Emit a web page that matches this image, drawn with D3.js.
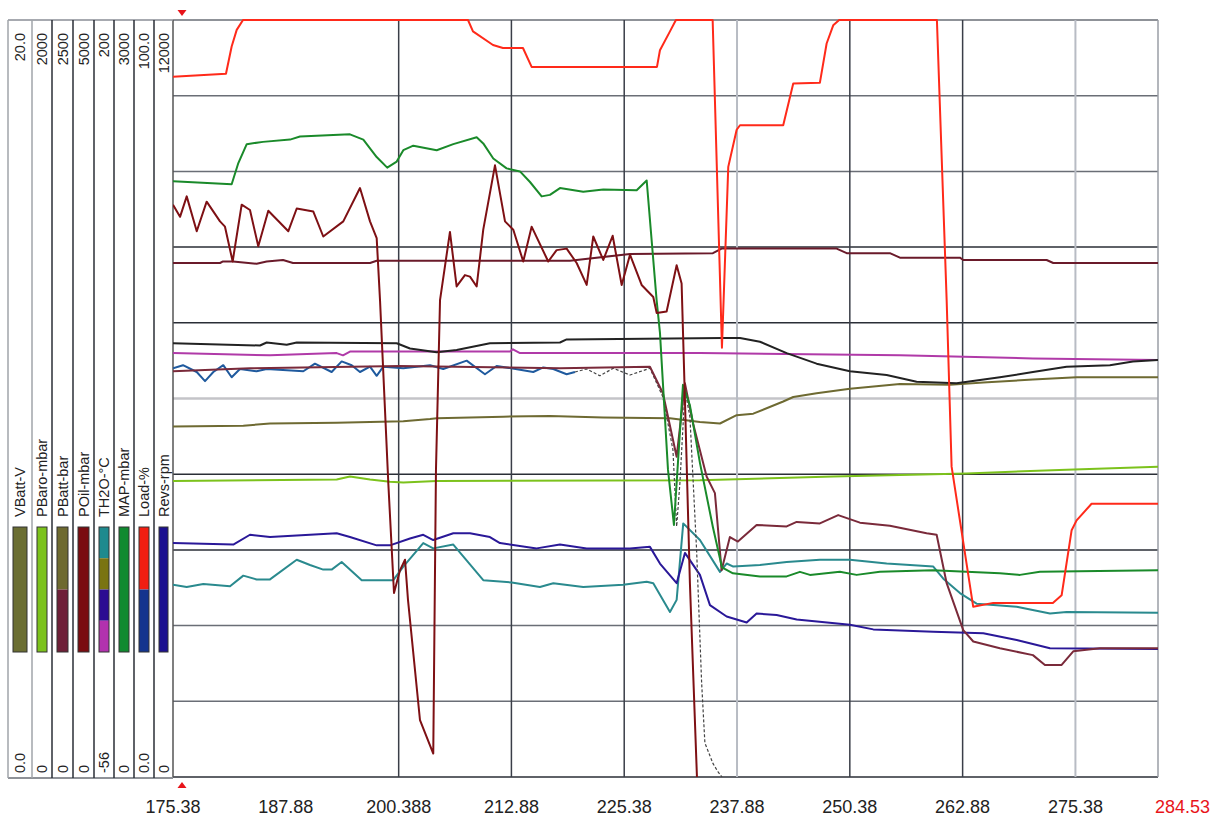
<!DOCTYPE html>
<html>
<head>
<meta charset="utf-8">
<script src="https://cdn.jsdelivr.net/npm/d3@7"></script>
<style>
  html, body { margin: 0; padding: 0; background: #fff; }
  svg { display: block; font-family: "Liberation Sans", Arial, sans-serif; }
</style>
</head>
<body>
<svg id="chart" width="1223" height="817"></svg>
<script>
// time axis
const tStart = 175.38;
const tEnd = 284.53;
const tickTimes = [187.88, 200.388, 212.88, 225.38, 237.88, 250.38, 262.88, 275.38];
const tickLabels = ['175.38', '187.88', '200.388', '212.88', '225.38', '237.88', '250.38', '262.88', '275.38'];
const endLabel = '284.53';

// legend columns
const chanNames = ['VBatt-V', 'PBaro-mbar', 'PBatt-bar', 'POil-mbar', 'TH2O-°C', 'MAP-mbar', 'Load-%', 'Revs-rpm'];
const chanMax = ['20.0', '2000', '2500', '5000', '200', '3000', '100.0', '12000'];
const chanMin = ['0.0', '0', '0', '0', '-56', '0', '0.0', '0'];
const chanSwatch = [
  ['#6b6e32'],
  ['#7cc21c'],
  ['#6e6a30', '#6e2038'],
  ['#7a0c10'],
  ['#1e8a8e', '#7a7412', '#2c0c92', '#b232ae'],
  ['#108a30'],
  ['#f21e12', '#14348e'],
  ['#1c1090']
];

// traces, [time, % of full scale]
const loadRed = [[175.38,92.5],[181.25,92.9],[181.88,96.5],[182.44,98.7],[183.14,100],[208.07,100],[208.62,98.5],[210.84,96.7],[211.94,96.3],[214.16,96.3],[215.12,93.8],[229.01,93.8],[229.34,96.0],[230.45,98.5],[231.11,100],[235.18,100],[236.21,56.7],[236.91,80.6],[237.84,85.5],[238.21,86.1],[243.0,86.1],[244.11,91.6],[247.06,91.7],[247.81,96.9],[248.54,99.3],[249.2,100],[260.03,100],[261.11,63.0],[261.66,41.0],[264.05,22.5],[266.27,23.0],[272.88,23.0],[273.85,24.0],[274.96,32.6],[275.51,33.9],[277.17,36.1],[284.53,36.1]];
const mapGreen = [[175.38,78.7],[181.88,78.3],[182.62,81.1],[183.55,83.6],[185.35,83.9],[188.35,84.2],[189.45,84.6],[193.14,84.8],[194.99,84.9],[196.47,84.2],[197.95,81.9],[199.12,80.5],[200.17,81.3],[200.9,82.8],[202.01,83.4],[204.6,82.8],[206.44,83.6],[209.03,84.5],[209.76,83.7],[210.87,81.7],[212.35,80.4],[213.83,80.0],[214.94,78.6],[216.23,76.7],[217.15,76.9],[218.26,77.8],[220.84,77.3],[223.06,77.6],[226.76,77.5],[227.87,78.8],[228.97,63.0],[229.34,58.7],[230.23,40.6],[230.89,33.3],[231.89,51.8],[232.66,49.1],[233.77,41.5],[235.21,33.0],[236.21,27.7],[237.43,26.9],[240.42,26.5],[243.38,26.5],[244.85,27.1],[245.96,26.7],[249.28,27.1],[251.13,26.7],[253.71,27.1],[259.59,27.3],[267.01,26.9],[269.23,26.7],[271.44,27.1],[284.53,27.3]];
const oilDarkRed = [[175.38,75.6],[176.16,74.0],[176.9,76.7],[178.01,72.1],[179.11,76.0],[180.59,73.4],[181.14,72.7],[181.99,68.1],[182.99,75.6],[183.91,74.9],[184.83,70.1],[185.94,74.8],[188.16,72.1],[189.09,75.1],[190.93,74.7],[192.03,71.4],[194.25,73.4],[196.1,77.8],[197.21,73.4],[197.95,71.2],[198.32,63.0],[199.24,38.8],[199.87,24.3],[200.53,27.3],[201.09,28.7],[201.42,23.4],[202.75,7.5],[204.22,3.1],[204.52,40.6],[204.97,63.0],[206.07,72.0],[206.81,64.8],[207.73,66.3],[208.29,66.1],[209.03,64.8],[209.76,72.3],[211.06,80.8],[212.17,73.4],[213.09,72.3],[214.19,68.1],[215.12,72.7],[216.96,68.1],[217.89,69.6],[219.0,69.8],[220.11,67.9],[221.22,65.0],[221.95,71.4],[223.06,68.3],[224.1,71.5],[225.1,65.0],[226.02,69.0],[227.31,65.0],[228.6,63.4],[228.98,61.3],[230.08,61.5],[231.19,67.6],[231.74,65.2],[232.11,49.8],[232.66,25.6],[233.44,0],[233.6,-3]];
const battMaroon = [[175.38,67.9],[180.59,67.9],[180.92,68.1],[182.03,68.1],[184.65,67.8],[185.76,68.1],[187.57,68.3],[188.68,67.9],[197.21,67.9],[197.95,68.2],[219.37,68.2],[226.02,69.1],[235.21,69.2],[236.17,69.8],[248.92,69.8],[250.03,69.2],[254.82,69.2],[255.93,68.6],[262.58,68.6],[262.95,68.3],[272.19,68.3],[272.92,67.9],[284.53,67.9]];
const battLow = [[175.38,53.6],[183.91,54.0],[200.53,54.3],[218.26,54.0],[228.23,54.2],[229.67,50.7],[231.19,42.3],[232.11,52.0],[232.99,46.8],[234.51,39.7],[235.43,37.5],[236.17,27.3],[237.09,31.7],[237.98,31.1],[240.05,33.3],[243.38,33.1],[244.49,33.7],[247.06,33.5],[249.09,34.6],[251.5,33.6],[254.82,33.2],[258.89,32.2],[260.0,32.0],[261.11,25.6],[262.95,19.4],[264.06,17.9],[267.01,17.0],[270.67,16.1],[272.0,14.8],[273.85,14.8],[275.14,16.6],[278.09,17.0],[284.53,17.0]];
const blackLine = [[175.38,57.3],[185.02,57.0],[185.76,57.4],[187.98,57.1],[189.09,57.4],[200.17,57.3],[201.64,56.6],[204.6,56.1],[206.81,56.4],[210.5,57.3],[218.26,57.4],[219.0,57.8],[236.35,58.0],[238.21,58.0],[240.42,57.5],[243.38,56.0],[246.7,54.6],[250.39,53.6],[254.46,53.1],[257.78,52.2],[262.21,52.0],[267.01,52.8],[270.67,53.5],[274.4,54.2],[279.2,54.4],[281.75,54.9],[284.53,55.1]];
const magentaLine = [[175.38,56.0],[186.13,55.7],[193.52,56.0],[194.22,55.7],[194.99,56.2],[212.72,56.2],[213.05,56.5],[213.83,56.0],[233.77,56.0],[255.93,55.7],[270.67,55.3],[284.53,55.1]];
const blueLine = [[175.38,54.0],[176.49,54.4],[178.01,53.5],[178.93,52.3],[179.85,53.5],[180.95,54.4],[181.88,52.8],[182.8,53.9],[184.65,53.6],[185.76,53.9],[189.82,53.6],[191.11,54.6],[192.96,53.5],[194.07,54.9],[195.18,54.4],[196.1,53.5],[197.21,54.2],[197.95,53.0],[198.68,54.2],[200.9,54.0],[203.86,54.4],[205.33,53.9],[207.92,55.0],[209.95,53.2],[211.24,54.3],[213.83,53.8],[215.3,53.5],[216.41,54.1],[217.52,53.9],[219.0,53.2],[219.92,53.5]];
const grayThin = [[219.92,53.5],[221.22,53.9],[222.69,53.0],[224.17,54.0],[226.02,53.1],[227.49,53.7],[228.23,54.0],[229.67,50.2],[230.78,43.2],[231.19,33.1],[231.55,38.8],[232.11,51.1],[232.66,47.6],[233.4,30.0],[233.96,12.4],[234.32,4.5],[235.21,1.8],[235.76,0.7],[236.21,0]];
const oliveLine = [[175.38,46.3],[183.17,46.4],[186.13,46.7],[193.52,46.8],[200.9,47.0],[203.86,47.3],[204.6,47.4],[211.98,47.6],[217.15,47.7],[223.06,47.5],[230.45,47.4],[233.77,46.9],[235.99,46.7],[237.84,47.8],[239.68,48.0],[243.0,49.6],[244.11,50.2],[246.7,50.7],[250.39,51.3],[255.93,51.9],[261.47,51.8],[265.16,52.1],[270.67,52.5],[275.51,52.8],[284.53,52.8]];
const baroGreen = [[175.38,39.1],[193.52,39.3],[194.99,39.7],[197.21,39.3],[199.42,39.0],[200.9,38.9],[204.6,39.1],[233.77,39.2],[248.54,39.7],[263.32,40.1],[274.4,40.6],[284.53,41.0]];
const revsNavy = [[175.38,30.9],[182.06,30.7],[183.91,32.0],[186.13,31.7],[193.52,32.2],[194.99,31.7],[197.95,30.6],[199.42,30.6],[201.64,31.5],[203.11,32.0],[204.22,31.3],[206.44,32.2],[208.29,32.2],[210.5,31.7],[211.61,30.9],[215.68,30.2],[218.26,30.7],[221.22,30.2],[226.02,30.2],[228.23,30.4],[229.34,28.2],[231.19,25.6],[232.11,29.6],[233.77,26.7],[234.88,22.7],[236.73,21.2],[238.95,20.4],[240.05,21.6],[242.27,21.4],[244.49,20.8],[250.39,20.1],[252.98,19.5],[259.63,19.2],[265.17,19.0],[268.87,18.1],[272.56,17.0],[284.53,16.9]];
const waterTeal = [[175.38,25.4],[176.9,25.1],[178.74,25.5],[181.7,25.2],[183.17,26.6],[184.65,26.1],[186.13,26.1],[189.09,28.7],[190.56,28.0],[192.03,27.4],[192.96,27.4],[194.07,28.4],[196.29,26.0],[199.79,26.0],[200.9,27.8],[203.11,30.9],[204.22,30.2],[206.44,30.7],[209.76,26.0],[212.91,25.7],[216.04,25.1],[217.52,25.6],[220.84,25.1],[225.27,25.4],[227.87,25.8],[228.6,25.6],[230.45,21.8],[231.19,23.4],[231.92,33.5],[233.77,31.3],[235.99,27.1],[236.73,28.2],[237.47,27.8],[240.42,28.0],[243.38,28.4],[247.06,28.7],[250.39,28.7],[254.46,28.2],[259.63,27.8],[260.74,26.2],[262.58,24.3],[264.43,22.9],[268.87,22.5],[272.56,21.6],[274.4,21.8],[284.53,21.7]];

const traces = [
  { data: baroGreen, color: '#7cc21c', w: 2 },
  { data: oliveLine, color: '#6e6a32', w: 2 },
  { data: waterTeal, color: '#2a8a8e', w: 2 },
  { data: revsNavy, color: '#2a1898', w: 2 },
  { data: magentaLine, color: '#b03aa8', w: 2 },
  { data: blackLine, color: '#222', w: 2 },
  { data: blueLine, color: '#1f5a9e', w: 2 },
  { data: grayThin, color: '#444', w: 1.2, dash: '3,2' },
  { data: battLow, color: '#7a2a3a', w: 2 },
  { data: battMaroon, color: '#6a1a2a', w: 2 },
  { data: mapGreen, color: '#1a8a2a', w: 2 },
  { data: oilDarkRed, color: '#7e1014', w: 2 },
  { data: loadRed, color: '#ff2a1a', w: 2 }
];

const svg = d3.select('#chart');
const plotL = 173, plotR = 1158, plotT = 20, plotB = 777;

const x = d3.scaleLinear().domain([tStart, tEnd]).range([plotL, plotR]);
const y = d3.scaleLinear().domain([0, 100]).range([plotB, plotT]);

// grid
const hGrid = d3.range(0, 101, 10);
const darkH = [0, 30, 40, 60, 70];
const hStyle = v => v === 50 ? ['#c4c4c8', 2.5] : darkH.includes(v) ? ['#2a2e36', 1.5] : ['#6a6e76', 1.5];
svg.append('g').selectAll('line').data(hGrid).enter().append('line')
  .attr('x1', plotL).attr('x2', plotR)
  .attr('y1', d => y(d)).attr('y2', d => y(d))
  .attr('stroke', d => hStyle(d)[0]).attr('stroke-width', d => hStyle(d)[1]);

const lightV = [237.88, 275.38];
svg.append('g').selectAll('line').data(tickTimes.filter(t => t !== 187.88)).enter().append('line')
  .attr('x1', d => x(d)).attr('x2', d => x(d))
  .attr('y1', plotT).attr('y2', plotB)
  .attr('stroke', d => lightV.includes(d) ? '#b8bcc4' : '#3a3e48')
  .attr('stroke-width', d => lightV.includes(d) ? 2 : 1.5);

// plot frame
svg.append('line').attr('x1', plotL).attr('x2', plotL).attr('y1', plotT).attr('y2', plotB)
  .attr('stroke', '#555').attr('stroke-width', 1.5);
svg.append('line').attr('x1', plotR).attr('x2', plotR).attr('y1', plotT).attr('y2', plotB)
  .attr('stroke', '#9a9ea6').attr('stroke-width', 1.5);

// traces
svg.append('clipPath').attr('id', 'plot-clip').append('rect')
  .attr('x', plotL).attr('y', plotT - 2).attr('width', plotR - plotL).attr('height', plotB - plotT + 2);
const line = d3.line().x(d => x(d[0])).y(d => y(d[1]));
const g = svg.append('g').attr('clip-path', 'url(#plot-clip)');
traces.forEach(tr => {
  g.append('path')
    .attr('d', line(tr.data))
    .attr('fill', 'none')
    .attr('stroke', tr.color)
    .attr('stroke-width', tr.w)
    .attr('stroke-linejoin', 'round')
    .attr('stroke-dasharray', tr.dash || null);
});

// legend panel on the left
const colEdges = [8, 32, 52, 73, 94, 114, 134, 154, 173];
const leg = svg.append('g');
leg.append('line').attr('x1', 8).attr('x2', plotL).attr('y1', plotT).attr('y2', plotT)
  .attr('stroke', '#8a8e96').attr('stroke-width', 1.5);
leg.append('line').attr('x1', 8).attr('x2', plotL).attr('y1', 778).attr('y2', 778)
  .attr('stroke', '#6a6e76').attr('stroke-width', 1.5);
colEdges.slice(0, -1).forEach((ex, i) => {
  leg.append('line').attr('x1', ex).attr('x2', ex).attr('y1', plotT).attr('y2', 778)
    .attr('stroke', i < 2 ? '#a0a4aa' : '#2a2e36').attr('stroke-width', 1.5);
});

chanNames.forEach((name, i) => {
  const cx = (colEdges[i] + colEdges[i + 1]) / 2;
  const tx = (yy, txt, anchor) => leg.append('text')
    .attr('transform', `translate(${cx + 5},${yy}) rotate(-90)`)
    .attr('text-anchor', anchor)
    .attr('font-size', 14.5)
    .attr('fill', '#222')
    .text(txt);
  tx(33, chanMax[i], 'end');
  tx(517, name, 'start');
  tx(773, chanMin[i], 'start');

  const cols = chanSwatch[i];
  const sy = d3.scaleLinear().domain([0, cols.length]).range([527, 652]);
  cols.forEach((c, k) => {
    leg.append('rect')
      .attr('x', colEdges[i] + 5).attr('width', colEdges[i + 1] - colEdges[i] - 10)
      .attr('y', sy(k)).attr('height', sy(k + 1) - sy(k))
      .attr('fill', c);
  });
  leg.append('rect')
    .attr('x', colEdges[i] + 5).attr('width', colEdges[i + 1] - colEdges[i] - 10)
    .attr('y', 527).attr('height', 125)
    .attr('fill', 'none').attr('stroke', '#333').attr('stroke-width', 1);
});

// cursor markers
const cur = x(176.38);
svg.append('path').attr('d', `M${cur - 4.5},10 L${cur + 4.5},10 L${cur},16 Z`).attr('fill', '#e8141a');
svg.append('path').attr('d', `M${cur - 4.5},788 L${cur + 4.5},788 L${cur},782 Z`).attr('fill', '#e8141a');

// time labels
const labTimes = [tStart].concat(tickTimes);
svg.append('g').selectAll('text').data(labTimes).enter().append('text')
  .attr('x', d => x(d)).attr('y', 813)
  .attr('text-anchor', 'middle')
  .attr('font-size', 18)
  .attr('fill', '#222')
  .text((d, i) => tickLabels[i]);
svg.append('text').attr('x', plotR - 3).attr('y', 813)
  .attr('font-size', 18).attr('fill', '#e8141a').text(endLabel);
</script>
</body>
</html>
